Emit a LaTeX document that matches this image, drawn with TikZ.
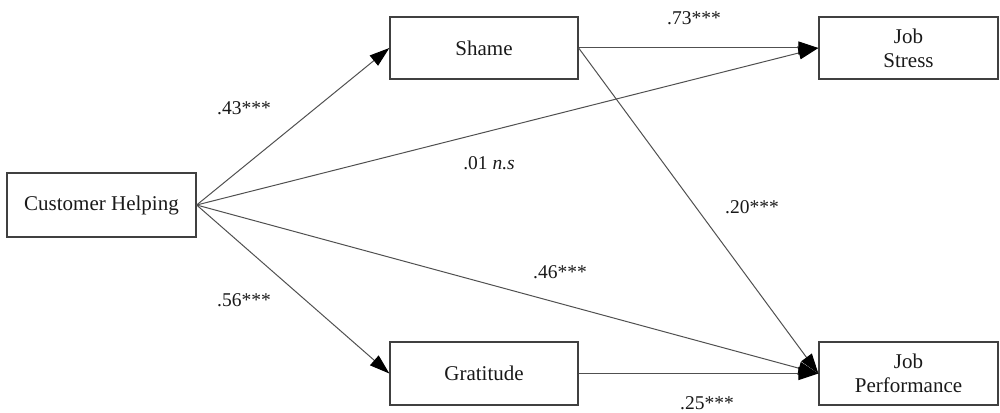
\documentclass[tikz,border=0pt]{standalone}
\usepackage{fontspec}
\setmainfont{Liberation Serif}
\usetikzlibrary{arrows.meta}
\definecolor{boxline}{HTML}{404040}
\definecolor{conline}{HTML}{505050}
\begin{document}
\begin{tikzpicture}[x=1pt,y=-1pt,
  box/.style={draw=boxline,line width=1.3pt,inner sep=0pt,align=center,
    font=\fontsize{21}{24}\selectfont,text=black!90},
  conn/.style={draw=conline,line width=1pt,-{Triangle[length=20pt,width=13pt,fill=black,color=black]},shorten >=0pt},
  lab/.style={font=\fontsize{19.5}{22}\selectfont,text=black!90,inner sep=0pt}]
\useasboundingbox (0,0) rectangle (1000,412);
\node[box,minimum width=189pt,minimum height=64pt] (ch) at (101.5,205) {Customer Helping};
\node[box,minimum width=188pt,minimum height=62pt] (sh) at (484,48) {Shame};
\node[box,minimum width=188pt,minimum height=63pt] (gr) at (484,373.5) {Gratitude};
\node[box,minimum width=179pt,minimum height=62pt] (js) at (908.5,48) {Job\\Stress};
\node[box,minimum width=179pt,minimum height=63pt] (jp) at (908.5,373.5) {Job\\Performance};
\draw[conn] (ch.east) -- (sh.west);
\draw[conn] (ch.east) -- (gr.west);
\draw[conn] (ch.east) -- (js.west);
\draw[conn] (ch.east) -- (jp.west);
\draw[conn] (sh.east) -- (js.west);
\draw[conn] (sh.east) -- (jp.west);
\draw[conn] (gr.east) -- (jp.west);
\node[lab] (l73) at (694,18) {.73***};
\node[lab] (l43) at (244,108) {.43***};
\node[lab] (l56) at (244,300) {.56***};
\node[lab] (l01) at (489,163) {.01 \textit{n.s}};
\node[lab] (l20) at (752,207) {.20***};
\node[lab] (l46) at (560,272) {.46***};
\node[lab] (l25) at (707,403) {.25***};
\end{tikzpicture}
\end{document}
